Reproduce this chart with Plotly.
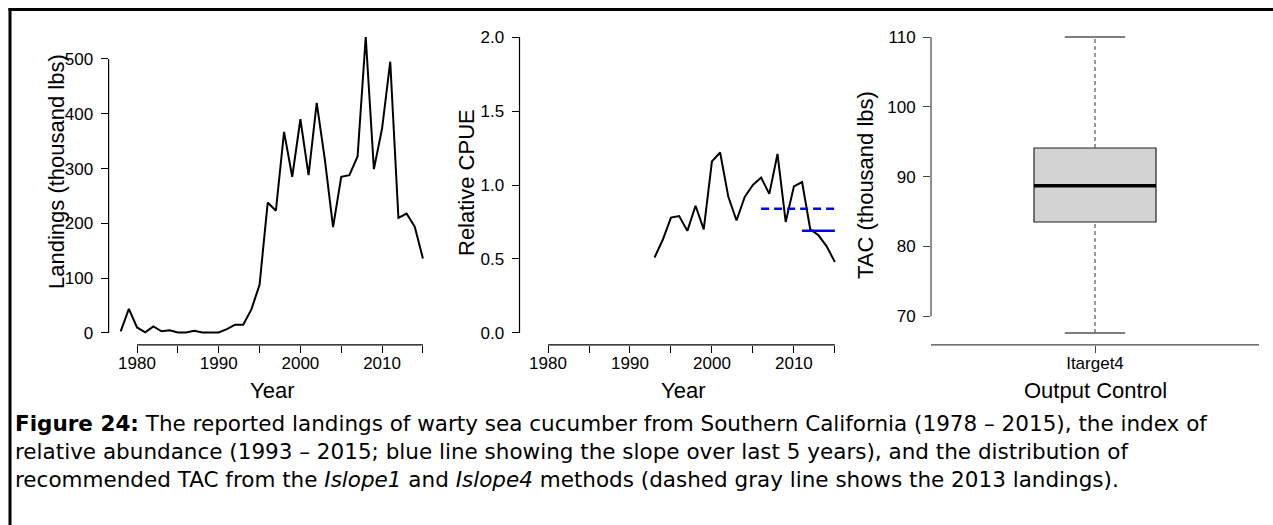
import plotly.graph_objects as go

# ---- data ----
years = list(range(1978, 2016))
landings = [3, 44, 10, 1, 12, 3, 5, 1, 1, 4, 1, 1, 1, 7, 15, 15, 43, 88,
            238, 223, 367, 285, 390, 288, 420, 316, 193, 285, 288, 322,
            540, 299, 373, 495, 210, 218, 194, 136]

cpue_years = list(range(1993, 2016))
cpue = [0.51, 0.63, 0.78, 0.79, 0.69, 0.86, 0.70, 1.16, 1.22, 0.92, 0.76,
        0.92, 1.00, 1.05, 0.94, 1.21, 0.75, 0.99, 1.02, 0.70, 0.66, 0.585, 0.48]

# mean CPUE reference levels (blue)
ref_years_long = [2006, 2015]
ref_long = [0.84, 0.84]
ref_years_short = [2011, 2015]
ref_short = [0.69, 0.69]

# TAC distribution for Itarget4
tac_label = "Itarget4"
tac_low, tac_q1, tac_med, tac_q3, tac_high = 67.6, 83.5, 88.7, 94.1, 110.0

W, H = 1273, 525
FONT = "Arial, Liberation Sans, sans-serif"


def px(x):
    return x / W


def py(y):
    return 1 - y / H


y_dom = [py(344.8), py(25.2)]

fig = go.Figure()

# panel 1 - landings
fig.add_trace(go.Scatter(x=years, y=landings, mode="lines",
                         line=dict(color="black", width=2), xaxis="x", yaxis="y"))

# panel 2 - relative CPUE
fig.add_trace(go.Scatter(x=cpue_years, y=cpue, mode="lines",
                         line=dict(color="black", width=2), xaxis="x2", yaxis="y2"))
fig.add_trace(go.Scatter(x=ref_years_long, y=ref_long, mode="lines",
                         line=dict(color="#0000ff", width=2.5, dash="8px,5px"),
                         xaxis="x2", yaxis="y2"))
fig.add_trace(go.Scatter(x=ref_years_short, y=ref_short, mode="lines",
                         line=dict(color="#0000ff", width=2.5),
                         xaxis="x2", yaxis="y2"))

# panel 3 - boxplot
hw, cw = 0.186, 0.092
fig.add_trace(go.Box(x=[1], q1=[tac_q1], median=[tac_med], q3=[tac_q3],
                     lowerfence=[tac_q1], upperfence=[tac_q3], width=2 * hw,
                     whiskerwidth=0, fillcolor="#d3d3d3",
                     line=dict(color="#222222", width=1.2),
                     xaxis="x3", yaxis="y3"))
fig.add_trace(go.Scatter(x=[1 - hw, 1 + hw], y=[tac_med, tac_med], mode="lines",
                         line=dict(color="black", width=3.5), xaxis="x3", yaxis="y3"))
for a, b in [(tac_low, tac_q1), (tac_q3, tac_high)]:
    fig.add_trace(go.Scatter(x=[1, 1], y=[a, b], mode="lines",
                             line=dict(color="#555555", width=1.2, dash="4px,3px"),
                             xaxis="x3", yaxis="y3"))
for v in [tac_low, tac_high]:
    fig.add_trace(go.Scatter(x=[1 - cw, 1 + cw], y=[v, v], mode="lines",
                             line=dict(color="#555555", width=1.5),
                             xaxis="x3", yaxis="y3"))

tick = dict(ticks="outside", ticklen=7, tickwidth=1, tickcolor="black",
            showline=False, showgrid=False, zeroline=False,
            tickfont=dict(family=FONT, size=17, color="black"))

yr_vals = list(range(1980, 2016, 5))
yr_text = [str(v) if v % 10 == 0 else "" for v in yr_vals]

fig.update_layout(
    width=W, height=H, autosize=False,
    margin=dict(l=0, r=0, t=0, b=0),
    paper_bgcolor="white", plot_bgcolor="white",
    showlegend=False,
    xaxis=dict(domain=[px(108.6), px(435)], range=[1976.52, 2016.48],
               tickvals=yr_vals, ticktext=yr_text, anchor="y", **tick),
    yaxis=dict(domain=y_dom, range=[-21.6, 561.6],
               tickvals=[0, 100, 200, 300, 400, 500], anchor="x", **tick),
    xaxis2=dict(domain=[px(519.5), px(847)], range=[1976.52, 2016.48],
                tickvals=yr_vals, ticktext=yr_text, anchor="y2", **tick),
    yaxis2=dict(domain=y_dom, range=[-0.08, 2.08],
                tickvals=[0, 0.5, 1, 1.5, 2],
                ticktext=["0.0", "0.5", "1.0", "1.5", "2.0"], anchor="x2", **tick),
    xaxis3=dict(domain=[px(931), px(1259)], range=[0.5, 1.5],
                tickvals=[1], ticktext=[tac_label], anchor="y3", **tick),
    yaxis3=dict(domain=y_dom, range=[65.9, 111.7],
                tickvals=[70, 80, 90, 100, 110], anchor="x3", **tick),
)
fig.update_xaxes(ticklabelstandoff=-4)
fig.update_yaxes(ticklabelstandoff=4)
fig.update_layout(xaxis3_tickcolor="#444444", yaxis3_tickcolor="#444444")

# R-style axis lines spanning only the tick range
lines = [
    dict(xref="x domain", yref="y", x0=0, x1=0, y0=0, y1=500),
    dict(xref="x", yref="y domain", x0=1980, x1=2015, y0=0, y1=0),
    dict(xref="x2 domain", yref="y2", x0=0, x1=0, y0=0, y1=2),
    dict(xref="x2", yref="y2 domain", x0=1980, x1=2015, y0=0, y1=0),
    dict(xref="x3 domain", yref="y3", x0=0, x1=0, y0=70, y1=110),
    dict(xref="x3 domain", yref="y3 domain", x0=0, x1=1, y0=0, y1=0),
]
for i, ln in enumerate(lines):
    col = "#444444" if i >= 4 else "black"
    fig.add_shape(type="line", line=dict(color=col, width=1.2), **ln)

# figure frame (left and top edges)
fig.add_shape(type="line", xref="paper", yref="paper", x0=px(10), x1=px(10),
              y0=-0.1, y1=py(8), line=dict(color="black", width=3))
fig.add_shape(type="line", xref="paper", yref="paper", x0=px(8.5), x1=1.1,
              y0=py(9.5), y1=py(9.5), line=dict(color="black", width=3))

title_font = dict(family=FONT, size=22, color="black")
titles = [
    ("Landings (thousand lbs)", 56, 172, -90),
    ("Relative CPUE", 467, 183, -90),
    ("TAC (thousand lbs)", 865, 185, -90),
    ("Year", 272, 390, 0),
    ("Year", 683, 390, 0),
    ("Output Control", 1095, 390, 0),
]
for text, x, y, ang in titles:
    fig.add_annotation(text=text, x=px(x), y=py(y), xref="paper", yref="paper",
                       showarrow=False, textangle=ang, font=title_font,
                       xanchor="center", yanchor="middle")

caption = [
    "<b>Figure 24:</b> The reported landings of warty sea cucumber from Southern "
    "California (1978 – 2015), the index of",
    "relative abundance (1993 – 2015; blue line showing the slope over last 5 years), "
    "and the distribution of",
    "recommended TAC from the <i>Islope1</i> and <i>Islope4</i> methods "
    "(dashed gray line shows the 2013 landings).",
]
for i, line in enumerate(caption):
    fig.add_annotation(text=line, x=px(13), y=py(423 + 28 * i), xref="paper",
                       yref="paper", showarrow=False, xanchor="left",
                       yanchor="middle", align="left",
                       font=dict(family="DejaVu Sans, sans-serif", size=21.5,
                                 color="black"))

fig.write_html("out.html", config={"displayModeBar": False},
               post_script="document.body.style.margin='0';")
